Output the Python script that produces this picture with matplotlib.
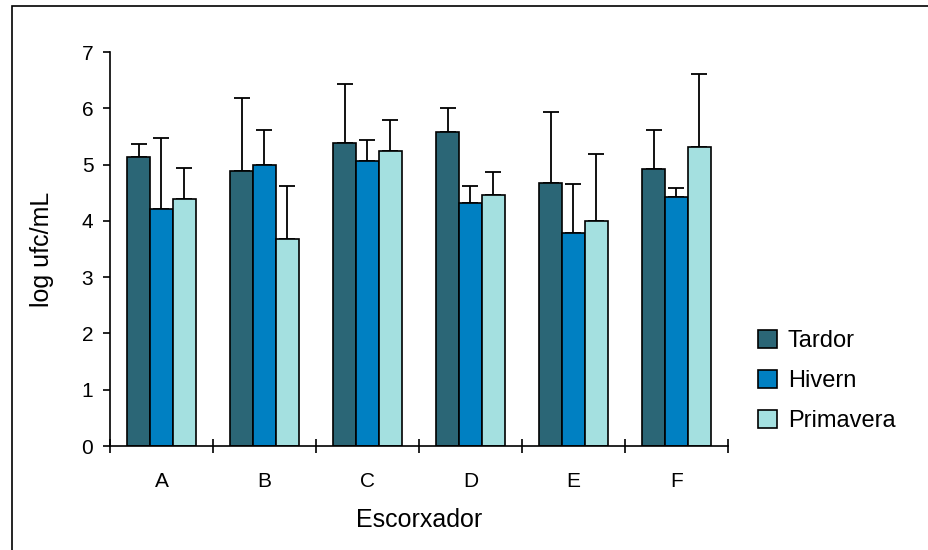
import matplotlib.pyplot as plt
import numpy as np
from matplotlib.patches import Rectangle

plt.rcParams["font.family"] = ["Liberation Sans", "DejaVu Sans"]

# data
escorxadors = ["A", "B", "C", "D", "E", "F"]
estacions = ["Tardor", "Hivern", "Primavera"]
tardor = [5.14, 4.89, 5.39, 5.57, 4.68, 4.93]
hivern = [4.21, 5.00, 5.07, 4.32, 3.79, 4.43]
primavera = [4.39, 3.68, 5.25, 4.46, 4.00, 5.32]
err_tardor = [0.22, 1.29, 1.05, 0.43, 1.25, 0.68]
err_hivern = [1.26, 0.61, 0.37, 0.30, 0.86, 0.15]
err_primavera = [0.55, 0.94, 0.54, 0.41, 1.18, 1.29]

COLORS = ["#2B6676", "#0080C2", "#A4E0E0"]
W, H = 929, 550

fig = plt.figure(figsize=(W / 100, H / 100), dpi=100)
ax = fig.add_axes([110 / W, 1 - 446 / H, 618 / W, 394 / H])

# outer frame of the chart area (right and bottom run off the image)
fig.patches.append(Rectangle((12 / W, -0.05), 1.2, 1 - 6 / H + 0.05, transform=fig.transFigure,
                             fill=False, edgecolor="black", linewidth=1.2))

x = np.arange(len(escorxadors))
bw = 0.222
series = [(tardor, err_tardor), (hivern, err_hivern), (primavera, err_primavera)]
for i, (vals, errs) in enumerate(series):
    pos = x + (i - 1) * bw
    ax.bar(pos, vals, width=bw, color=COLORS[i], edgecolor="black", linewidth=1.2,
           label=estacions[i], zorder=2)
    ax.errorbar(pos, vals, yerr=[np.zeros(len(errs)), errs], fmt="none", ecolor="black",
                elinewidth=1.3, capsize=6, capthick=1.3, zorder=1)

ax.set_xlim(-0.5, len(escorxadors) - 0.5)
ax.set_ylim(0, 7)
ax.set_yticks(range(8))
ax.set_xticks(x)
ax.set_xticklabels(escorxadors)
ax.set_xticks(np.arange(-0.5, len(escorxadors)), minor=True)

for side in ["top", "right"]:
    ax.spines[side].set_visible(False)
for side in ["left", "bottom"]:
    ax.spines[side].set_linewidth(1.2)

ax.tick_params(axis="y", direction="out", length=5, width=1.2, labelsize=15, pad=7)
ax.tick_params(axis="x", which="major", length=0, labelsize=15, pad=19)
ax.tick_params(axis="x", which="minor", direction="inout", length=10, width=1.2)

ax.set_xlabel("Escorxador", fontsize=18, labelpad=12)
ax.set_ylabel("log ufc/mL", fontsize=18, labelpad=20)

leg = ax.legend(loc="center left", bbox_to_anchor=(1.03, 0.165), frameon=False, fontsize=17,
                handlelength=0.8, handleheight=0.8, handletextpad=0.45, labelspacing=0.75,
                borderpad=0)

fig.savefig("out.png", dpi=100, facecolor="white")
